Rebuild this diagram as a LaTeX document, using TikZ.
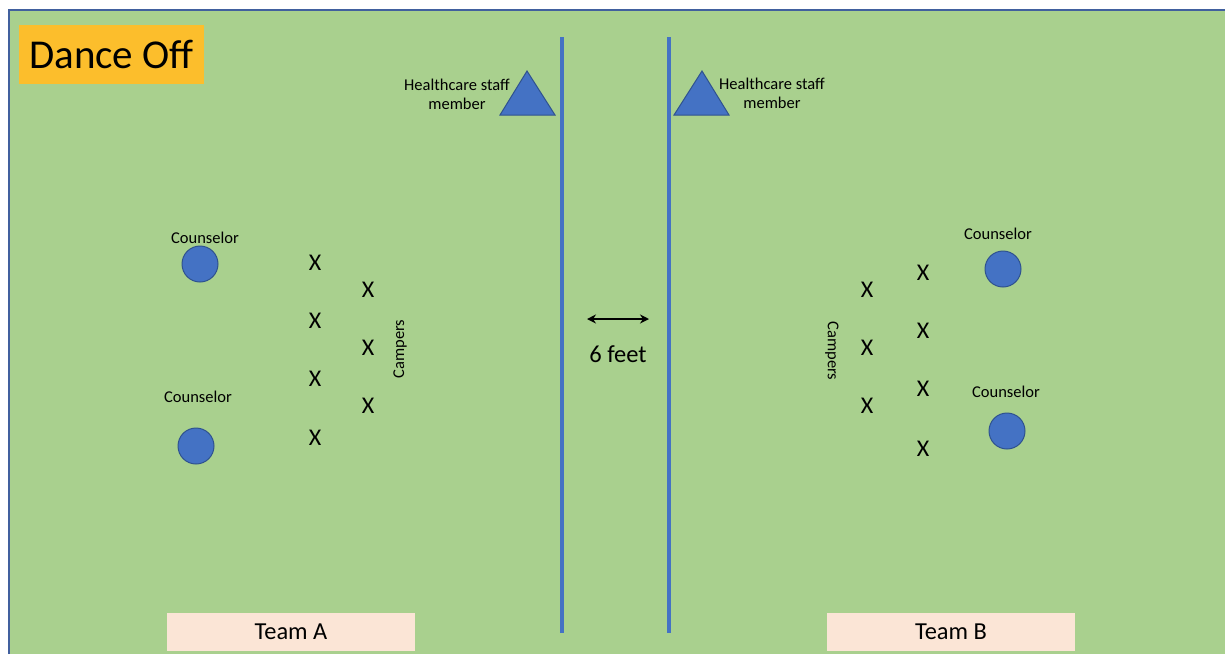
\documentclass[tikz,border=0pt]{standalone}
\usepackage{fontspec}
\setmainfont{Carlito}
\usetikzlibrary{arrows.meta}
\definecolor{fieldgreen}{HTML}{A9D08E}
\definecolor{edgeblue}{HTML}{41609E}
\definecolor{lineblue}{HTML}{4472C4}
\definecolor{darkblue}{HTML}{2F528F}
\definecolor{titleorange}{HTML}{FCBE2C}
\definecolor{teampink}{HTML}{FBE5D6}
\begin{document}
\begin{tikzpicture}[x=1pt,y=-1pt,
  counselor/.style={circle,fill=lineblue,draw=darkblue,line width=1pt,minimum size=36pt,inner sep=0pt},
  lbl/.style={font=\fontsize{16.5}{18}\selectfont,inner sep=0pt},
  camper/.style={font=\fontsize{24}{26}\selectfont,inner sep=0pt},
  teambox/.style={fill=teampink,minimum width=248pt,minimum height=38pt,inner sep=0pt,font=\fontsize{24.4}{26}\selectfont},
  divider/.style={lineblue,line width=4pt},
  staff/.style={fill=lineblue,draw=darkblue,line width=1pt,line join=miter}]
\useasboundingbox (0,0) rectangle (1225,654);
\fill[white] (0,0) rectangle (1225,654);
\fill[fieldgreen] (9,10) rectangle (1225,654);
\draw[edgeblue,line width=2pt] (9,654) -- (9,10) -- (1225,10);

% title
\node[fill=titleorange,minimum width=185pt,minimum height=59pt,inner sep=0pt,
      font=\fontsize{41}{46}\selectfont] (title) at (111.5,54.5) {Dance Off};

% dividers
\coordinate (l1top) at (562,37); \coordinate (l1bot) at (562,633);
\coordinate (l2top) at (669,37); \coordinate (l2bot) at (669,633);
\draw[divider] (l1top) -- (l1bot);
\draw[divider] (l2top) -- (l2bot);

% healthcare staff
\draw[staff] (527,71) -- (555,115) -- (500,115) -- cycle;
\draw[staff] (702,71) -- (729,115) -- (674,115) -- cycle;
\node[lbl,align=center] (hsA) at (457,94) {Healthcare staff\\[1pt]member};
\node[lbl,align=center] (hsB) at (772,93) {Healthcare staff\\[1pt]member};

% arrow
\coordinate (al) at (587,319); \coordinate (ar) at (649,319);
\draw[{Stealth[length=9pt,width=9pt]}-{Stealth[length=9pt,width=9pt]},line width=2pt] (al) -- (ar);
\node[font=\fontsize{24.5}{26}\selectfont,inner sep=0pt] (six) at (618,354) {6 feet};

% Team A side
\node[lbl] (cA1l) at (205,238) {Counselor};
\node[counselor] (cA1) at (200,264) {};
\node[lbl] (cA2l) at (198,397) {Counselor};
\node[counselor] (cA2) at (196,446) {};
\node[camper] (xa1) at (315,263) {X};
\node[camper] (xa2) at (315,321) {X};
\node[camper] (xa3) at (315,379) {X};
\node[camper] (xa4) at (315,438) {X};
\node[camper] (xa5) at (368,290) {X};
\node[camper] (xa6) at (368,348) {X};
\node[camper] (xa7) at (368,406) {X};
\node[lbl,rotate=90] (campA) at (400,349) {Campers};

% Team B side
\node[lbl] (cB1l) at (998,234) {Counselor};
\node[counselor] (cB1) at (1003,269) {};
\node[lbl] (cB2l) at (1006,392) {Counselor};
\node[counselor] (cB2) at (1007,431) {};
\node[camper] (xb1) at (867,290) {X};
\node[camper] (xb2) at (867,348) {X};
\node[camper] (xb3) at (867,406) {X};
\node[camper] (xb4) at (923,273) {X};
\node[camper] (xb5) at (923,331) {X};
\node[camper] (xb6) at (923,389) {X};
\node[camper] (xb7) at (923,449) {X};
\node[lbl,rotate=-90] (campB) at (832,351) {Campers};

% team labels
\node[teambox] (teamA) at (291,632) {Team A};
\node[teambox] (teamB) at (951,632) {Team B};
\end{tikzpicture}
\end{document}
